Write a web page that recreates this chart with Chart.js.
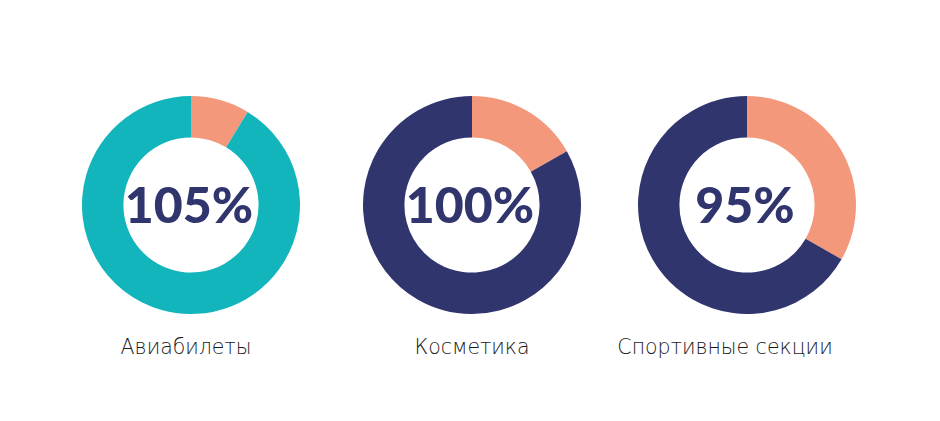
<!DOCTYPE html>
<html>
<head>
<meta charset="utf-8">
<script src="https://cdn.jsdelivr.net/npm/chart.js@4/dist/chart.umd.min.js"></script>
<style>
  html, body { margin:0; padding:0; background:#fff; }
  body { width:940px; height:421px; position:relative; overflow:hidden; }
  .ring { position:absolute; width:218px; height:218px; }
  .pct { position:absolute; width:200px; margin-left:-100px; text-align:center;
         font-family:Lato, sans-serif; font-weight:900; font-size:50px; color:#31356e;
         line-height:1; letter-spacing:0; }
  .cap { position:absolute; width:300px; margin-left:-150px; text-align:center;
         font-family:"DejaVu Sans", sans-serif; font-weight:300; font-size:20.5px; color:#1a1a1a;
         line-height:1; }
</style>
</head>
<body>
<script>
  // Данные
  const categories = ['Авиабилеты', 'Косметика', 'Спортивные секции'];
  const centerLabels = ['105%', '100%', '95%'];
  const accentShare = [8.7, 16.8, 33.3];
  const restShare = [91.3, 83.2, 66.7];
  const ringColors = ['#11b5bb', '#31356e', '#31356e'];
  const accentColor = '#f4987b';

  // Положение колец на странице
  const centersX = [191, 472, 747];
  const centerY = 205;
  const captionX = [186, 472, 725];

  categories.forEach((name, i) => {
    const box = document.createElement('div');
    box.className = 'ring';
    box.style.left = (centersX[i] - 109) + 'px';
    box.style.top = (centerY - 109) + 'px';
    const canvas = document.createElement('canvas');
    box.appendChild(canvas);
    document.body.appendChild(box);

    new Chart(canvas.getContext('2d'), {
      type: 'doughnut',
      data: {
        labels: ['Доля', 'Остальное'],
        datasets: [{
          data: [accentShare[i], restShare[i]],
          backgroundColor: [accentColor, ringColors[i]],
          borderWidth: 0
        }]
      },
      options: {
        responsive: true,
        maintainAspectRatio: false,
        animation: false,
        cutout: '62%',
        layout: { padding: 0 },
        plugins: { legend: { display: false }, tooltip: { enabled: false } }
      }
    });

    const pct = document.createElement('div');
    pct.className = 'pct';
    pct.textContent = centerLabels[i];
    pct.style.left = (centersX[i] - 2) + 'px';
    pct.style.top = (centerY - 26) + 'px';
    document.body.appendChild(pct);

    const cap = document.createElement('div');
    cap.className = 'cap';
    cap.textContent = name;
    cap.style.left = captionX[i] + 'px';
    cap.style.top = '337px';
    document.body.appendChild(cap);
  });
</script>
</body>
</html>
